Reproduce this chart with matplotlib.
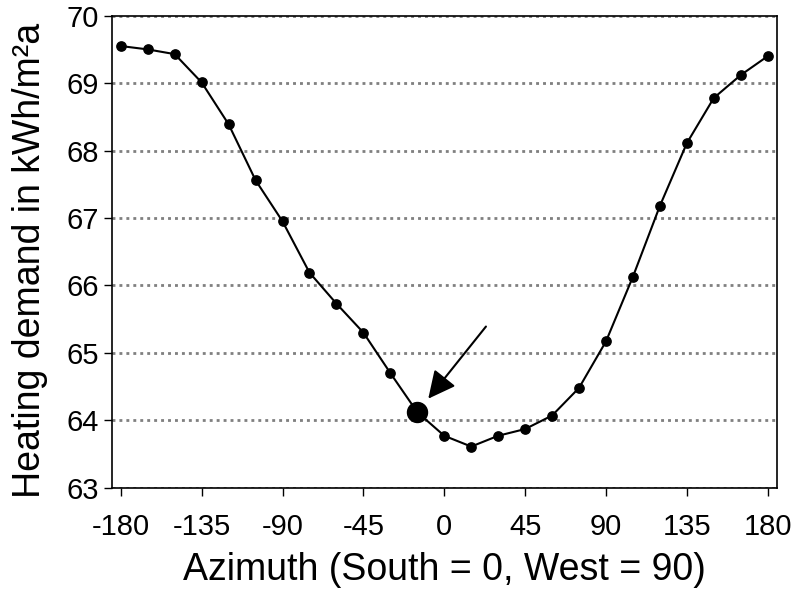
import matplotlib
matplotlib.use("Agg")
import matplotlib.pyplot as plt

plt.rcParams['font.family'] = ['Liberation Sans', 'DejaVu Sans']
plt.rcParams['axes.unicode_minus'] = False

azimuth = [-180, -165, -150, -135, -120, -105, -90, -75, -60, -45, -30, -15,
           0, 15, 30, 45, 60, 75, 90, 105, 120, 135, 150, 165, 180]
heating = [69.55, 69.50, 69.43, 69.01, 68.39, 67.56, 66.95, 66.19, 65.73, 65.30,
           64.70, 64.12, 63.77, 63.61, 63.77, 63.87, 64.07, 64.48, 65.17, 66.13,
           67.18, 68.11, 68.78, 69.12, 69.40]
highlight_azimuth = -15
x_ticks = [-180, -135, -90, -45, 0, 45, 90, 135, 180]
y_ticks = [63, 64, 65, 66, 67, 68, 69, 70]

fig = plt.figure(figsize=(7.95, 5.9), dpi=100)
ax = fig.add_axes([0.1413, 0.1734, 0.977 - 0.1413, 0.9734 - 0.1734])

for yv in y_ticks:
    ax.axhline(yv, color='#808080', lw=2.0, linestyle=(0, (1.05, 1.45)), zorder=1)

ax.plot(azimuth, heating, color='black', lw=1.5, marker='o', markersize=6.7, zorder=3)
hi = azimuth.index(highlight_azimuth)
ax.plot([azimuth[hi]], [heating[hi]], 'o', color='black', markersize=14.4, zorder=4)

ax.annotate('', xy=(-8.9, 64.32), xytext=(23.2, 65.39),
            arrowprops=dict(arrowstyle='-|>,head_length=0.84,head_width=0.415',
                            mutation_scale=20, color='black', lw=1.5,
                            shrinkA=0, shrinkB=0), zorder=5)

ax.set_xlim(-184.7, 185)
ax.set_ylim(63, 70)
ax.set_xticks(x_ticks)
ax.set_yticks(y_ticks)
ax.tick_params(axis='both', direction='out', length=5.5, width=1, color='black',
               labelsize=21)
ax.tick_params(axis='y', pad=4)
ax.tick_params(axis='x', pad=12.5)
for s in ax.spines.values():
    s.set_color('black')
    s.set_linewidth(1.2)

ax.set_xlabel('Azimuth (South = 0, West = 90)', fontsize=27, labelpad=8)
ax.set_ylabel('Heating demand in kWh/m²a', fontsize=27)
ax.yaxis.set_label_coords(-0.097, 0.482)

fig.savefig('out.png', dpi=100)
